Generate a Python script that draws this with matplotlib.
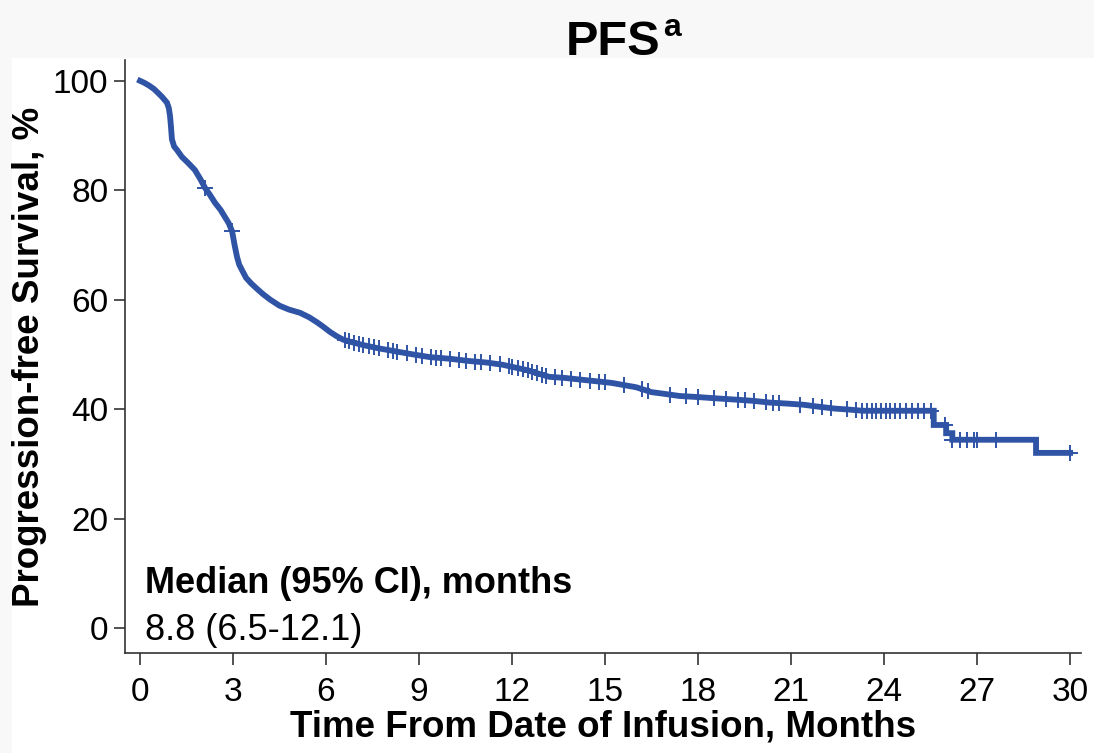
import numpy as np
import matplotlib
matplotlib.use("Agg")
import matplotlib.pyplot as plt
from matplotlib.patches import Rectangle

plt.rcParams['font.family'] = ['Liberation Sans', 'DejaVu Sans']

# PFS curve (months, %)
months = [0.0, 0.15, 0.3, 0.45, 0.58, 0.72, 0.87, 0.93, 0.97, 1.0, 1.03, 1.1,
          1.2, 1.35, 1.55, 1.77, 1.95, 2.1, 2.25, 2.42, 2.6, 2.74, 2.86, 2.97,
          3.05, 3.13, 3.2, 3.29, 3.42, 3.58, 3.77, 3.97, 4.2, 4.5, 4.8, 5.16,
          5.45, 5.7, 5.9, 6.13, 6.35, 6.55, 6.85, 7.2, 7.7, 8.3, 8.8, 9.35,
          10.0, 10.6, 11.2, 11.7, 12.1, 12.5, 12.9, 13.2, 13.7, 14.2, 14.7,
          15.2, 15.6, 16.0, 16.5, 16.9, 17.4, 18.0, 18.5, 19.3, 19.8, 20.3,
          20.9, 21.4, 21.8, 22.4, 22.9, 23.3, 24.5, 25.6, 25.6, 26.0, 26.0,
          26.2, 26.2, 28.9, 28.9, 30.0]
pfs = [100.0, 99.6, 99.1, 98.5, 97.8, 97.0, 96.0, 95.0, 93.5, 91.5, 89.3, 88.0,
       87.3, 86.1, 85.0, 83.7, 82.0, 80.4, 79.2, 77.7, 76.4, 75.1, 74.0, 72.5,
       70.0, 67.8, 66.4, 65.4, 64.0, 63.0, 62.0, 61.0, 60.0, 58.9, 58.2, 57.6,
       56.8, 55.9, 55.1, 54.1, 53.3, 52.7, 52.2, 51.7, 51.1, 50.5, 50.0, 49.5,
       49.2, 48.8, 48.5, 48.1, 47.6, 47.1, 46.4, 45.9, 45.7, 45.4, 45.1,
       44.8, 44.4, 44.0, 43.1, 42.8, 42.4, 42.2, 42.0, 41.7, 41.5, 41.2,
       41.0, 40.8, 40.5, 40.1, 39.9, 39.7, 39.7, 39.7, 37.1, 37.1, 35.6,
       35.6, 34.4, 34.4, 32.0, 32.0]

# censoring times (months)
censored = [2.1, 2.97, 6.6, 6.75, 6.9, 7.05, 7.2, 7.4, 7.55, 7.7, 8.0,
            8.15, 8.3, 8.6, 8.9, 9.1, 9.4, 9.55, 9.7, 10.0, 10.3, 10.5, 10.8,
            11.0, 11.3, 11.6, 11.9, 12.0, 12.2, 12.35, 12.5, 12.65, 12.8, 12.95,
            13.1, 13.4, 13.6, 13.9, 14.2, 14.5, 14.8, 15.0, 15.6, 16.2, 16.4,
            17.1, 17.6, 18.0, 18.5, 18.9, 19.3, 19.5, 19.8, 20.2, 20.4, 20.6,
            21.3, 21.7, 22.0, 22.3, 22.8, 23.1, 23.3, 23.45, 23.6, 23.75, 23.9,
            24.05, 24.2, 24.35, 24.5, 24.7, 24.9, 25.1, 25.3, 25.5, 25.97, 26.2,
            26.45, 26.67, 26.9, 27.0, 27.6, 30.0]

xticks = [0, 3, 6, 9, 12, 15, 18, 21, 24, 27, 30]
yticks = [0, 20, 40, 60, 80, 100]

blue = '#2f53a5'
W, H = 1094, 753

fig = plt.figure(figsize=(W / 100, H / 100), dpi=100, facecolor='#f8f8f8')
fig.patches.append(Rectangle((12 / W, 0), 1, (H - 58) / H, transform=fig.transFigure,
                             facecolor='white', edgecolor='none', zorder=-10))

ax = fig.add_axes([125 / W, 100 / H, (1081 - 125) / W, (653 - 60) / H])
ax.set_facecolor('none')

ax.plot(months, pfs, color=blue, lw=4.2, solid_joinstyle='miter', zorder=3)
cy = np.interp(censored, months, pfs)
ax.plot(censored, cy, ls='none', marker='+', ms=11, mew=1.4, color=blue, zorder=3)

ax.set_xlim(-0.484, 30.35)
ax.set_ylim(-4.57, 103.8)
ax.set_xticks(xticks)
ax.set_yticks(yticks)

for s in ['top', 'right']:
    ax.spines[s].set_visible(False)
for s in ['left', 'bottom']:
    ax.spines[s].set_color('#333333')
    ax.spines[s].set_linewidth(1.2)

ax.tick_params(axis='x', length=8.5, width=1.2, color='#333333', labelsize=24, pad=9)
ax.tick_params(axis='y', length=8, width=1.2, color='#333333', labelsize=24, pad=4)

ax.set_xlabel('Time From Date of Infusion, Months', fontsize=26.5, fontweight='bold',
              labelpad=1)
ax.set_ylabel('Progression-free Survival, %', fontsize=26.5, fontweight='bold',
              labelpad=4)

ax.text(0.16, 6.4, 'Median (95% CI), months', fontsize=26, fontweight='bold',
        va='baseline', ha='left')
ax.text(0.16, -2.2, '8.8 (6.5-12.1)', fontsize=26, va='baseline', ha='left')

t = fig.text(566 / W, 1 - 55 / H, 'PFS', fontsize=35, fontweight='bold',
             va='baseline', ha='left')
fig.canvas.draw()
bb = t.get_window_extent()
fig.text((bb.x1 + 2) / W, 1 - 36 / H, 'a', fontsize=23, fontweight='bold',
         va='baseline', ha='left')

fig.savefig('out.png', dpi=100, facecolor=fig.get_facecolor())
